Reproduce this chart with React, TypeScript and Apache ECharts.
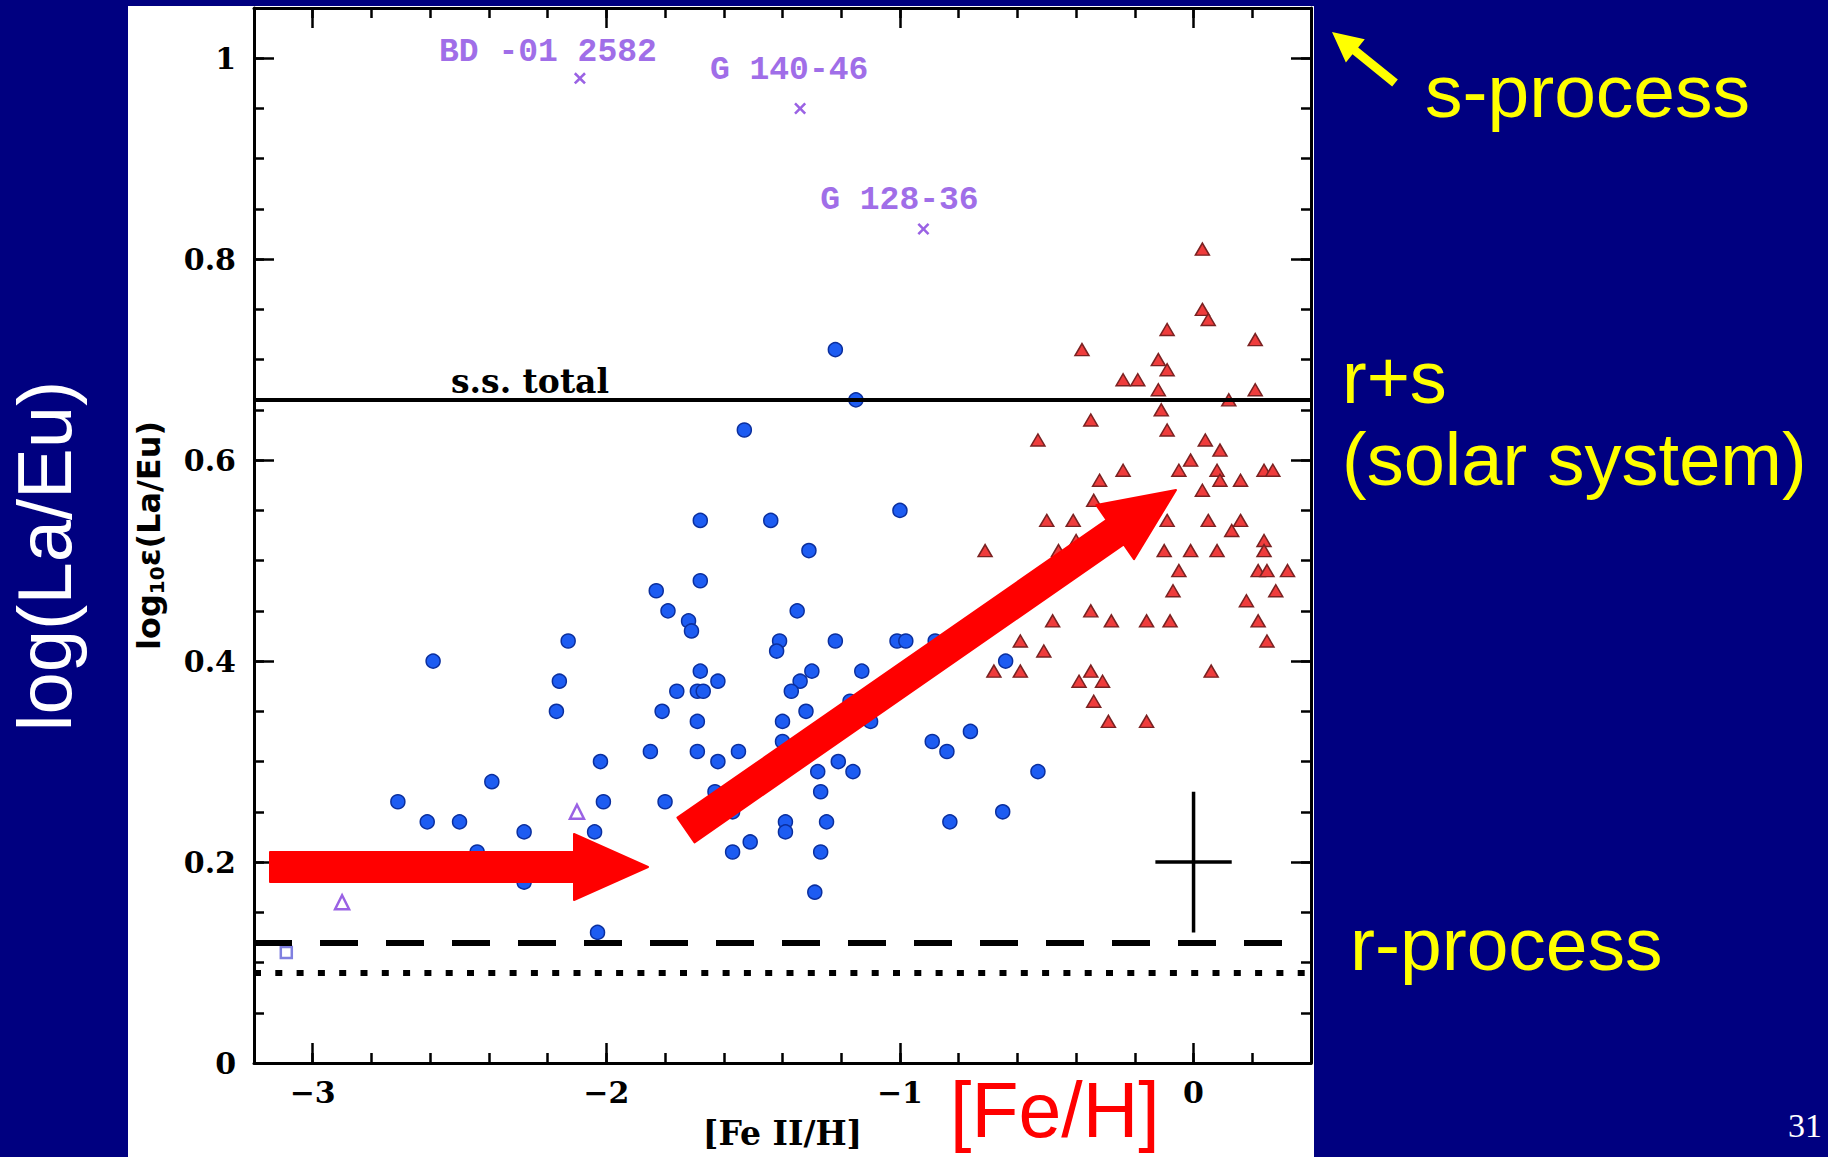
import React, { useEffect, useRef } from 'react';
import * as echarts from 'echarts';

// Metal-poor halo stars: [Fe II/H], log10 ε(La/Eu)  (filled blue circles)
const haloStars: [number, number][] = [
  [-1.22, 0.71], [-1.15, 0.66], [-1.53, 0.63], [-1.68, 0.54], [-1.44, 0.54],
  [-1.0, 0.55], [-1.31, 0.51], [-1.83, 0.47], [-1.68, 0.48], [-1.79, 0.45],
  [-1.72, 0.44], [-1.71, 0.43], [-1.35, 0.45], [-2.13, 0.42], [-2.59, 0.4],
  [-1.41, 0.42], [-1.42, 0.41], [-1.22, 0.42], [-1.01, 0.42], [-0.98, 0.42],
  [-0.88, 0.42], [-2.16, 0.38], [-1.68, 0.39], [-1.62, 0.38], [-1.76, 0.37],
  [-1.69, 0.37], [-1.67, 0.37], [-1.3, 0.39], [-1.34, 0.38], [-1.37, 0.37],
  [-1.13, 0.39], [-2.17, 0.35], [-1.81, 0.35], [-1.32, 0.35], [-1.69, 0.34],
  [-1.4, 0.34], [-1.1, 0.34], [-1.85, 0.31], [-1.69, 0.31], [-1.55, 0.31],
  [-1.4, 0.32], [-0.89, 0.32], [-0.76, 0.33], [-0.84, 0.31], [-2.02, 0.3],
  [-1.62, 0.3], [-2.39, 0.28], [-1.21, 0.3], [-1.28, 0.29], [-1.16, 0.29],
  [-0.53, 0.29], [-2.71, 0.26], [-2.01, 0.26], [-1.8, 0.26], [-1.63, 0.27],
  [-1.27, 0.27], [-1.57, 0.25], [-0.65, 0.25], [-2.61, 0.24], [-2.5, 0.24],
  [-1.25, 0.24], [-1.39, 0.24], [-1.39, 0.23], [-0.83, 0.24], [-2.28, 0.23],
  [-2.04, 0.23], [-2.44, 0.21], [-1.51, 0.22], [-1.57, 0.21], [-1.27, 0.21],
  [-2.28, 0.18], [-1.29, 0.17], [-2.03, 0.13], [-0.64, 0.4], [-1.17, 0.36],
];

// Disk stars (filled red triangles)
const diskStars: [number, number][] = [
  [0.03, 0.81], [0.03, 0.75], [0.05, 0.74], [-0.09, 0.73], [-0.38, 0.71],
  [0.21, 0.72], [-0.12, 0.7], [-0.09, 0.69], [-0.24, 0.68], [-0.19, 0.68],
  [-0.12, 0.67], [0.21, 0.67], [0.12, 0.66], [-0.11, 0.65], [-0.35, 0.64],
  [-0.09, 0.63], [-0.53, 0.62], [0.04, 0.62], [0.09, 0.61], [-0.01, 0.6],
  [-0.05, 0.59], [0.08, 0.59], [0.09, 0.58], [0.16, 0.58], [0.24, 0.59],
  [0.27, 0.59], [-0.24, 0.59], [-0.32, 0.58], [0.03, 0.57], [-0.34, 0.56],
  [-0.5, 0.54], [-0.41, 0.54], [-0.09, 0.54], [0.05, 0.54], [0.16, 0.54],
  [0.13, 0.53], [0.24, 0.52], [-0.4, 0.52], [-0.71, 0.51], [-0.46, 0.51],
  [-0.1, 0.51], [-0.01, 0.51], [0.08, 0.51], [0.24, 0.51], [-0.05, 0.49],
  [0.22, 0.49], [0.25, 0.49], [0.32, 0.49], [-0.07, 0.47], [0.28, 0.47],
  [0.18, 0.46], [-0.35, 0.45], [-0.48, 0.44], [-0.28, 0.44], [-0.16, 0.44],
  [-0.08, 0.44], [0.22, 0.44], [0.25, 0.42], [-0.59, 0.42], [-0.51, 0.41],
  [-0.68, 0.39], [-0.59, 0.39], [-0.35, 0.39], [0.06, 0.39], [-0.39, 0.38],
  [-0.31, 0.38], [-0.34, 0.36], [-0.29, 0.34], [-0.16, 0.34],
];

// s-process-enriched stars (purple crosses) and their names
const enrichedNames = ['BD -01 2582', 'G 140-46', 'G 128-36'];
const enrichedStars: [number, number][] = [[-2.09, 0.98], [-1.34, 0.95], [-0.92, 0.83]];
// name label offsets (px) relative to each cross
const enrichedLabelOffsets: [number, number][] = [[-32, -26], [-11, -38], [-24, -29]];

// other stars (purple open symbols)
const openTriangleStars: [number, number][] = [[-2.9, 0.16], [-2.1, 0.25]];
const openSquareStars: [number, number][] = [[-3.09, 0.11]];

// reference ratios
const SS_TOTAL = 0.66; // solar system total
const R_ONLY_A = 0.115; // r-process (dashed)
const R_ONLY_B = 0.087; // r-process (dotted)

// typical uncertainty: x, y, ±x, ±y
const errorCross: [number, number, number, number] = [0, 0.2, 0.13, 0.07];

const xTicks = [-3, -2, -1, 0];
const yTicks = [0, 0.2, 0.4, 0.6, 0.8, 1];
const X_MIN = -3.2;
const X_MAX = 0.4;
const Y_MIN = 0;
const Y_MAX = 1.05;

const tickFont = {
  color: '#000',
  fontFamily: 'DejaVu Serif',
  fontWeight: 'bold' as const,
  fontSize: 30,
};

const SLIDE_FONT = 'Liberation Sans';

const fmtNum = (v: number) => (v < 0 ? '\u2212' + String(Math.abs(v)) : String(v));

function arrowPoints(
  tail: [number, number],
  tip: [number, number],
  shaftHalf: number,
  headLen: number,
  headHalf: number
): number[][] {
  const dx = tip[0] - tail[0];
  const dy = tip[1] - tail[1];
  const len = Math.hypot(dx, dy);
  const ux = dx / len;
  const uy = dy / len;
  const nx = -uy;
  const ny = ux;
  const bx = tip[0] - ux * headLen;
  const by = tip[1] - uy * headLen;
  return [
    [tail[0] + nx * shaftHalf, tail[1] + ny * shaftHalf],
    [bx + nx * shaftHalf, by + ny * shaftHalf],
    [bx + nx * headHalf, by + ny * headHalf],
    [tip[0], tip[1]],
    [bx - nx * headHalf, by - ny * headHalf],
    [bx - nx * shaftHalf, by - ny * shaftHalf],
    [tail[0] - nx * shaftHalf, tail[1] - ny * shaftHalf],
  ];
}

function makeXAxes(position: 'bottom' | 'top', withLabels: boolean) {
  const minor: any = {
    type: 'value',
    position,
    min: X_MIN,
    max: X_MAX,
    interval: 0.2,
    axisLine: { show: true, onZero: false, lineStyle: { color: '#000', width: 3 } },
    axisTick: { show: true, inside: true, length: 10, lineStyle: { color: '#000', width: 2.5 } },
    axisLabel: withLabels
      ? { show: true, customValues: xTicks, margin: 14, formatter: fmtNum, ...tickFont }
      : { show: false },
    splitLine: { show: false },
  };
  if (withLabels) {
    minor.name = '[Fe II/H]';
    minor.nameLocation = 'middle';
    minor.nameGap = 54;
    minor.nameTextStyle = { ...tickFont, fontSize: 33 };
  }
  const major = {
    type: 'value',
    position,
    min: X_MIN,
    max: X_MAX,
    interval: 0.2,
    axisLine: { show: false, onZero: false },
    axisTick: {
      show: true,
      inside: true,
      length: 20,
      customValues: xTicks,
      lineStyle: { color: '#000', width: 2.5 },
    },
    axisLabel: { show: false },
    splitLine: { show: false },
  };
  return [minor, major];
}

function makeYAxes(position: 'left' | 'right', withLabels: boolean) {
  const minor: any = {
    type: 'value',
    position,
    min: Y_MIN,
    max: Y_MAX,
    interval: 0.05,
    axisLine: { show: true, onZero: false, lineStyle: { color: '#000', width: 3 } },
    axisTick: { show: true, inside: true, length: 10, lineStyle: { color: '#000', width: 2.5 } },
    axisLabel: withLabels
      ? { show: true, customValues: yTicks, margin: 18, formatter: fmtNum, ...tickFont }
      : { show: false },
    splitLine: { show: false },
  };
  if (withLabels) {
    minor.name = '{m|log}{s|10}{m|\u03b5(La/Eu)}';
    minor.nameLocation = 'middle';
    minor.nameGap = 87;
    minor.nameTextStyle = {
      rich: {
        m: { fontFamily: 'DejaVu Sans', fontWeight: 'bold', fontSize: 32, color: '#000', lineHeight: 36 },
        s: { fontFamily: 'DejaVu Sans', fontWeight: 'bold', fontSize: 20, color: '#000', lineHeight: 21, verticalAlign: 'bottom' },
      },
    };
  }
  const major = {
    type: 'value',
    position,
    min: Y_MIN,
    max: Y_MAX,
    interval: 0.05,
    axisLine: { show: false, onZero: false },
    axisTick: {
      show: true,
      inside: true,
      length: 20,
      customValues: yTicks,
      lineStyle: { color: '#000', width: 2.5 },
    },
    axisLabel: { show: false },
    splitLine: { show: false },
  };
  return [minor, major];
}

const PURPLE = '#9a62e4';

export default function App() {
  const ref = useRef<HTMLDivElement>(null);

  useEffect(() => {
    if (!ref.current) return;
    const chart = echarts.init(ref.current, undefined, { renderer: 'svg' });

    const slideText = (
      text: string,
      x: number,
      y: number,
      fill: string,
      fontSize: number,
      lineHeight: number = fontSize
    ) => ({
      type: 'text',
      z: 100,
      x,
      y,
      silent: true,
      style: {
        text,
        fill,
        fontFamily: SLIDE_FONT,
        fontSize,
        lineHeight,
        align: 'left',
        verticalAlign: 'middle',
      },
    });

    const option: any = {
      animation: false,
      backgroundColor: '#000080',
      grid: { left: 254, right: 517, top: 8, bottom: 94, containLabel: false, outerBoundsMode: 'none' },
      xAxis: [...makeXAxes('bottom', true), ...makeXAxes('top', false)],
      yAxis: [...makeYAxes('left', true), ...makeYAxes('right', false)],
      series: [
        {
          type: 'scatter',
          name: 'halo',
          xAxisIndex: 0,
          yAxisIndex: 0,
          data: haloStars,
          symbol: 'circle',
          symbolSize: 14,
          itemStyle: { color: '#1d5cf2', borderColor: '#0b2f9e', borderWidth: 1.5, opacity: 1 },
          z: 4,
          markLine: {
            silent: true,
            symbol: ['none', 'none'],
            animation: false,
            data: [
              {
                yAxis: SS_TOTAL,
                lineStyle: { color: '#000', width: 4, type: 'solid' },
                label: {
                  show: true,
                  formatter: 's.s. total',
                  position: 'insideStartTop',
                  distance: [197, 2],
                  color: '#000',
                  fontFamily: 'DejaVu Serif',
                  fontWeight: 'bold',
                  fontSize: 33,
                },
              },
              {
                yAxis: R_ONLY_A,
                lineStyle: { color: '#000', width: 6, type: [38, 28], cap: 'butt' },
                label: { show: false },
              },
              {
                yAxis: R_ONLY_B,
                lineStyle: { color: '#000', width: 6, type: [7, 14.3], cap: 'butt' },
                label: { show: false },
              },
            ],
          },
        },
        {
          type: 'scatter',
          name: 'disk',
          xAxisIndex: 0,
          yAxisIndex: 0,
          data: diskStars,
          symbol: 'triangle',
          symbolSize: [14, 12],
          itemStyle: { color: '#ef3c3c', borderColor: '#7a2222', borderWidth: 1.5, opacity: 1 },
          z: 4,
        },
        {
          type: 'scatter',
          name: 'enriched',
          xAxisIndex: 0,
          yAxisIndex: 0,
          data: enrichedStars.map((v, i) => ({
            name: enrichedNames[i],
            value: v,
            label: { offset: enrichedLabelOffsets[i] },
          })),
          symbol:
            'path://M0,1.5L1.5,0L5,3.5L8.5,0L10,1.5L6.5,5L10,8.5L8.5,10L5,6.5L1.5,10L0,8.5L3.5,5Z',
          symbolSize: 12,
          itemStyle: { color: PURPLE, opacity: 1 },
          label: {
            show: true,
            formatter: '{b}',
            position: 'inside',
            color: '#a06ee8',
            fontFamily: 'Liberation Mono',
            fontWeight: 'bold',
            fontSize: 33,
          },
          z: 4,
        },
        {
          type: 'scatter',
          name: 'openTriangles',
          xAxisIndex: 0,
          yAxisIndex: 0,
          data: openTriangleStars,
          symbol: 'triangle',
          symbolSize: 14,
          itemStyle: { color: 'rgba(255,255,255,0)', borderColor: PURPLE, borderWidth: 2.5, opacity: 1 },
          z: 4,
        },
        {
          type: 'scatter',
          name: 'openSquares',
          xAxisIndex: 0,
          yAxisIndex: 0,
          data: openSquareStars,
          symbol: 'rect',
          symbolSize: 11,
          itemStyle: { color: 'rgba(255,255,255,0)', borderColor: '#8080e0', borderWidth: 2.5, opacity: 1 },
          z: 4,
        },
        {
          type: 'custom',
          name: 'error',
          xAxisIndex: 0,
          yAxisIndex: 0,
          data: [errorCross],
          z: 5,
          renderItem: (_params: any, api: any) => {
            const x = api.value(0);
            const y = api.value(1);
            const ex = api.value(2);
            const ey = api.value(3);
            const l = api.coord([x - ex, y]);
            const r = api.coord([x + ex, y]);
            const t = api.coord([x, y + ey]);
            const b = api.coord([x, y - ey]);
            const st = { stroke: '#000', lineWidth: 3.5 };
            return {
              type: 'group',
              children: [
                { type: 'line', shape: { x1: l[0], y1: l[1], x2: r[0], y2: r[1] }, style: st },
                { type: 'line', shape: { x1: t[0], y1: t[1], x2: b[0], y2: b[1] }, style: st },
              ],
            };
          },
        },
      ],
      graphic: {
        elements: [
          {
            type: 'rect',
            z: -10,
            silent: true,
            shape: { x: 128, y: 6, width: 1186, height: 1151 },
            style: { fill: '#ffffff' },
          },
          {
            type: 'polygon',
            z: 100,
            silent: true,
            shape: { points: arrowPoints([270, 867], [648, 867], 15, 74, 33) },
            style: { fill: '#ff0000', stroke: '#ff0000', lineWidth: 2, lineJoin: 'round' },
          },
          {
            type: 'polygon',
            z: 100,
            silent: true,
            shape: { points: arrowPoints([686, 830], [1176, 490], 15, 74, 33) },
            style: { fill: '#ff0000', stroke: '#ff0000', lineWidth: 2, lineJoin: 'round' },
          },
          {
            type: 'polygon',
            z: 100,
            silent: true,
            shape: { points: arrowPoints([1395, 83], [1332, 32], 4.5, 30, 15) },
            style: { fill: '#ffff00' },
          },
          {
            type: 'text',
            z: 100,
            x: 44,
            y: 556,
            rotation: Math.PI / 2,
            silent: true,
            style: {
              text: 'log(La/Eu)',
              fill: '#ffffff',
              fontFamily: SLIDE_FONT,
              fontSize: 76,
              lineHeight: 76,
              align: 'center',
              verticalAlign: 'middle',
            },
          },
          slideText('s-process', 1425, 91, '#ffff00', 75),
          slideText('r+s\n(solar system)', 1342, 418, '#ffff00', 74, 82),
          slideText('r-process', 1350, 944, '#ffff00', 75),
          slideText('[Fe/H]', 950, 1110, '#ff0000', 77),
          {
            type: 'text',
            z: 100,
            x: 1822,
            y: 1125,
            silent: true,
            style: {
              text: '31',
              fill: '#ffffff',
              fontFamily: 'Liberation Serif',
              fontSize: 34,
              lineHeight: 34,
              align: 'right',
              verticalAlign: 'middle',
            },
          },
        ],
      },
    };

    chart.setOption(option);
    return () => chart.dispose();
  }, []);

  return (
    <div
      ref={ref}
      style={{ position: 'fixed', left: 0, top: 0, width: 1828, height: 1157 }}
    />
  );
}
